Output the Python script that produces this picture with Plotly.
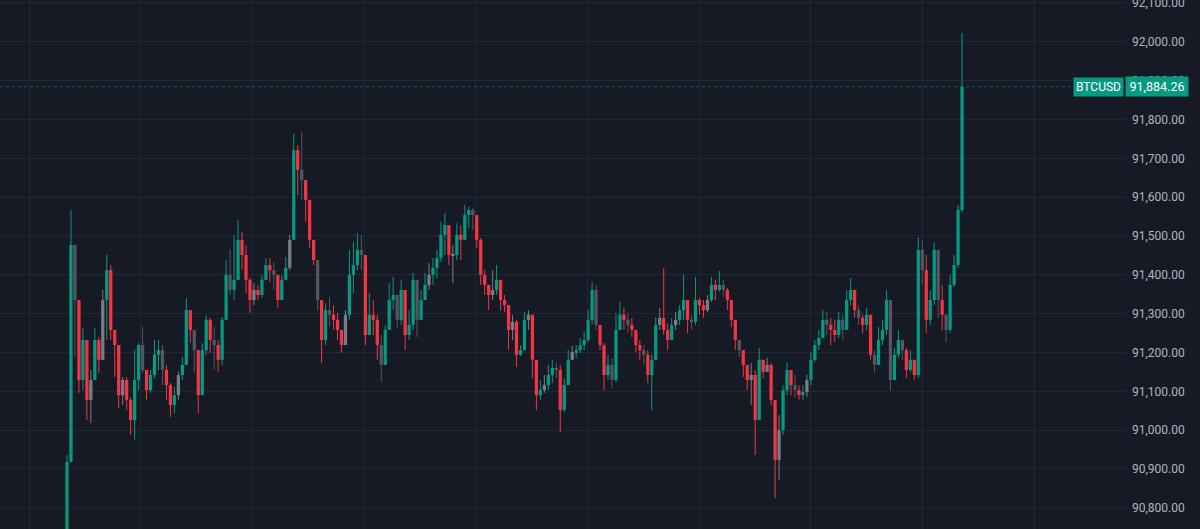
import plotly.graph_objects as go

# ---- data (BTCUSD) ----
first_open = 90700
closes = [90918, 91477, 91335, 91129, 91232, 91078, 91129, 91232, 91181, 91335,
          91412, 91258, 91219, 91090, 91129, 91078, 91026, 91129, 91219, 91155,
          91103, 91142, 91194, 91206, 91155, 91116, 91065, 91090, 91142, 91168,
          91309, 91258, 91206, 91090, 91206, 91284, 91232, 91219, 91181, 91284,
          91400, 91361, 91387, 91490, 91451, 91387, 91335, 91361, 91348, 91387,
          91425, 91412, 91400, 91335, 91387, 91418, 91490, 91721, 91670, 91644,
          91593, 91490, 91438, 91335, 91232, 91309, 91297, 91284, 91258, 91219,
          91297, 91400, 91425, 91464, 91451, 91245, 91297, 91284, 91219, 91168,
          91258, 91335, 91348, 91284, 91361, 91245, 91271, 91387, 91284, 91335,
          91374, 91400, 91418, 91443, 91503, 91528, 91451, 91451, 91503, 91490,
          91554, 91567, 91554, 91490, 91400, 91374, 91348, 91361, 91387, 91335,
          91322, 91258, 91279, 91194, 91206, 91284, 91297, 91181, 91090, 91103,
          91116, 91142, 91160, 91155, 91052, 91116, 91181, 91201, 91206, 91219,
          91232, 91284, 91361, 91271, 91219, 91142, 91168, 91129, 91258, 91297,
          91284, 91271, 91258, 91219, 91206, 91194, 91142, 91181, 91271, 91289,
          91258, 91232, 91271, 91284, 91309, 91335, 91284, 91279, 91335, 91322,
          91309, 91335, 91374, 91361, 91374, 91361, 91335, 91284, 91232, 91206,
          91168, 91129, 91142, 91026, 91181, 91150, 91168, 91078, 90923, 91000,
          91103, 91155, 91116, 91103, 91090, 91098, 91129, 91181, 91219, 91237,
          91284, 91271, 91258, 91245, 91284, 91258, 91335, 91361, 91309, 91289,
          91271, 91297, 91194, 91168, 91232, 91258, 91335, 91129, 91194, 91232,
          91206, 91155, 91181, 91142, 91464, 91412, 91284, 91335, 91464, 91335,
          91297, 91258, 91374, 91425, 91567, 91884.26]
highs = [90936, 91567, 91464, 91335, 91263, 91224, 91155, 91263, 91240, 91361,
         91451, 91425, 91245, 91206, 91137, 91137, 91085, 91206, 91224, 91266,
         91155, 91155, 91232, 91232, 91219, 91168, 91121, 91111, 91150, 91188,
         91340, 91291, 91250, 91147, 91224, 91296, 91289, 91266, 91232, 91291,
         91438, 91464, 91503, 91541, 91510, 91477, 91392, 91379, 91374, 91400,
         91443, 91443, 91433, 91392, 91400, 91446, 91503, 91763, 91734, 91766,
         91644, 91580, 91490, 91438, 91335, 91327, 91343, 91322, 91302, 91250,
         91309, 91464, 91485, 91508, 91503, 91451, 91353, 91335, 91297, 91245,
         91271, 91379, 91394, 91335, 91387, 91335, 91309, 91405, 91361, 91361,
         91405, 91430, 91443, 91464, 91536, 91559, 91490, 91477, 91533, 91528,
         91580, 91575, 91572, 91541, 91495, 91412, 91374, 91412, 91425, 91387,
         91348, 91322, 91297, 91284, 91219, 91304, 91309, 91297, 91181, 91129,
         91142, 91168, 91181, 91175, 91168, 91134, 91206, 91217, 91219, 91237,
         91253, 91309, 91382, 91374, 91271, 91224, 91194, 91186, 91302, 91330,
         91315, 91302, 91289, 91258, 91232, 91219, 91206, 91194, 91291, 91315,
         91418, 91276, 91289, 91304, 91322, 91400, 91322, 91297, 91394, 91340,
         91335, 91348, 91394, 91387, 91410, 91387, 91366, 91335, 91284, 91224,
         91194, 91155, 91173, 91155, 91212, 91168, 91186, 91173, 91065, 91039,
         91116, 91175, 91150, 91142, 91116, 91116, 91142, 91201, 91232, 91258,
         91309, 91304, 91289, 91284, 91304, 91297, 91361, 91392, 91335, 91322,
         91297, 91315, 91284, 91206, 91266, 91284, 91361, 91322, 91212, 91258,
         91224, 91212, 91206, 91175, 91497, 91490, 91451, 91361, 91482, 91425,
         91374, 91297, 91400, 91451, 91580, 92023]
lows = [90650, 90918, 91188, 91096, 91103, 91026, 91018, 91129, 91147, 91181,
        91232, 91232, 91137, 91057, 91065, 91052, 90988, 90975, 91103, 91147,
        91078, 91096, 91134, 91155, 91116, 91078, 91034, 91044, 91078, 91129,
        91168, 91224, 91147, 91044, 91090, 91194, 91199, 91155, 91150, 91168,
        91335, 91348, 91335, 91433, 91412, 91353, 91302, 91322, 91335, 91340,
        91387, 91382, 91361, 91315, 91361, 91400, 91412, 91490, 91605, 91593,
        91536, 91469, 91425, 91309, 91173, 91219, 91266, 91258, 91232, 91199,
        91232, 91284, 91353, 91412, 91412, 91219, 91245, 91245, 91181, 91124,
        91168, 91271, 91309, 91263, 91271, 91206, 91232, 91258, 91240, 91284,
        91335, 91361, 91374, 91392, 91433, 91451, 91425, 91379, 91438, 91438,
        91490, 91520, 91515, 91469, 91374, 91348, 91309, 91335, 91348, 91309,
        91304, 91206, 91232, 91163, 91191, 91206, 91258, 91134, 91052, 91078,
        91096, 91103, 91121, 91134, 90995, 91047, 91129, 91181, 91186, 91199,
        91206, 91227, 91271, 91258, 91206, 91103, 91129, 91108, 91124, 91271,
        91258, 91250, 91240, 91201, 91181, 91168, 91121, 91052, 91181, 91258,
        91245, 91206, 91232, 91258, 91271, 91284, 91250, 91258, 91271, 91297,
        91289, 91304, 91330, 91335, 91356, 91343, 91309, 91266, 91206, 91188,
        91137, 91103, 91065, 90936, 91026, 91134, 91150, 91065, 90825, 90872,
        90988, 91090, 91090, 91083, 91078, 91078, 91085, 91116, 91175, 91206,
        91237, 91245, 91219, 91227, 91237, 91232, 91258, 91322, 91289, 91271,
        91250, 91258, 91181, 91147, 91168, 91219, 91245, 91103, 91129, 91186,
        91181, 91134, 91150, 91129, 91134, 91374, 91250, 91271, 91322, 91289,
        91258, 91227, 91250, 91369, 91418, 91560]
neutral_idx = [2, 6, 9, 14, 19, 24, 28, 32, 37, 41, 47, 52, 56, 59, 63, 66, 70,
               74, 79, 83, 88, 91, 97, 102, 107, 112, 116, 120, 123, 127, 133,
               137, 141, 145, 149, 153, 157, 161, 165, 169, 172, 176, 179, 183,
               186, 191, 195, 199, 203, 207, 210, 215, 219, 221]
symbol = "BTCUSD"
last_price = 91884.26
price_ticks = [90800, 90900, 91000, 91100, 91200, 91300, 91400, 91500,
               91600, 91700, 91800, 91900, 92000, 92100]

# ---- build ----
opens = [first_open] + closes[:-1]
idx = list(range(len(closes)))

UP = "#089981"
DN = "#f23645"
GRAY_UP = "#7a7d86"
GRAY_DN = "#54575f"
BG = "#161a25"
GRID = "#232733"


def colour(i):
    up = closes[i] >= opens[i]
    if i in neutral_idx:
        return GRAY_UP if up else GRAY_DN
    return UP if up else DN


groups = {}
for i in idx:
    groups.setdefault(colour(i), []).append(i)

fig = go.Figure()
for col, ids in groups.items():
    wx, wy = [], []
    for i in ids:
        wx += [i, i, None]
        wy += [lows[i], highs[i], None]
    fig.add_trace(go.Scatter(x=wx, y=wy, mode="lines",
                             line=dict(color=col, width=1),
                             hoverinfo="skip", showlegend=False))
    fig.add_trace(go.Bar(
        x=ids,
        base=[min(opens[i], closes[i]) for i in ids],
        y=[max(abs(closes[i] - opens[i]), 3) for i in ids],
        width=0.82,
        marker=dict(color=col, line=dict(width=0)),
        hoverinfo="skip", showlegend=False))

# last price dotted line
fig.add_hline(y=last_price, line=dict(color=UP, width=1, dash="dot"), opacity=0.55)

fig.add_annotation(x=1.0, xref="paper", xanchor="right", y=last_price, yref="y",
                   text=symbol, showarrow=False, bgcolor=UP,
                   font=dict(color="white", size=12, family="Roboto"),
                   borderpad=2, xshift=-1)
fig.add_annotation(x=1.0, xref="paper", xanchor="left", y=last_price, yref="y",
                   text=f"{last_price:,.2f}", showarrow=False, bgcolor=UP,
                   font=dict(color="white", size=12.5, family="Roboto"),
                   borderpad=2, xshift=0, width=58)

x0 = -16.84
x1 = 265.96
fig.update_layout(
    width=1200, height=529,
    margin=dict(l=0, r=75, t=0, b=0, autoexpand=False),
    paper_bgcolor=BG, plot_bgcolor=BG,
    barmode="overlay",
    font=dict(family="Roboto", size=12, color="#b2b5be"),
    xaxis=dict(range=[x0, x1],
               showticklabels=False, ticks="", showline=False, zeroline=False,
               showgrid=True, gridcolor=GRID, gridwidth=1, automargin=False,
               tick0=-9.55, dtick=28.08, tickmode="linear"),
    yaxis=dict(range=[90745.4, 92107.7], side="right", tickvals=price_ticks,
               tickformat=",.2f", showgrid=True, gridcolor=GRID, gridwidth=1,
               ticks="", ticklabelstandoff=6, zeroline=False, showline=False,
               automargin=False, ticklabeloverflow="allow",
               tickfont=dict(color="#b2b5be", size=12, family="Roboto")),
)

fig.write_html("out.html",
               config={"displayModeBar": False},
               post_script="document.body.style.margin='0';"
                           "document.body.style.background='#161a25';")
